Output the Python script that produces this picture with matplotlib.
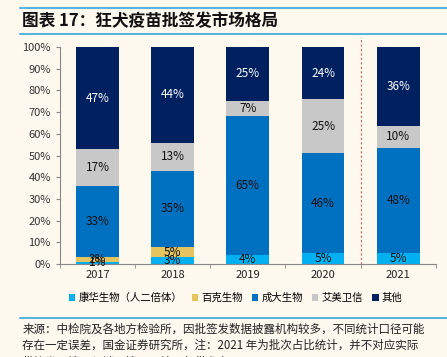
import matplotlib
matplotlib.use("Agg")
import matplotlib.pyplot as plt
import numpy as np

plt.rcParams['font.family'] = ['Noto Sans CJK SC', 'DejaVu Sans']

# data
years = ['2017', '2018', '2019', '2020', '2021']
companies = ['康华生物（人二倍体）', '百克生物', '成大生物', '艾美卫信', '其他']
kanghua = [1, 3, 4, 5, 5]
baike = [2, 5, 0, 0, 0]
chengda = [33, 35, 65, 46, 48]
aimei = [17, 13, 7, 25, 10]
others = [47, 44, 25, 24, 36]

COLORS = ['#00B0F0', '#E3C45E', '#0070C0', '#C8C8C8', '#002060']
TEXT_COLORS = ['#111111', '#111111', '#111111', '#111111', 'white']
BG = '#FDF9EF'
LINE_BLUE = '#3BA7DE'

fig = plt.figure(figsize=(4.47, 3.57), dpi=100, facecolor=BG)
ax = fig.add_axes([0.134, 0.2605, 0.841, 0.6075])
ax.set_facecolor(BG)

x = np.arange(len(years))
series = [kanghua, baike, chengda, aimei, others]
# 100% stacked: each year scaled to its total
totals = np.sum(np.array(series), axis=0).astype(float)
bottom = np.zeros(len(years))
for vals, name, col, tcol in zip(series, companies, COLORS, TEXT_COLORS):
    v = np.array(vals) / totals
    ax.bar(x, v, bottom=bottom, width=0.57, color=col, label=name, zorder=2)
    for xi, b, h, raw in zip(x, bottom, v, vals):
        if raw > 0:
            ax.text(xi, b + h / 2, f'{raw}%', ha='center', va='center',
                    fontsize=8.5, color=tcol, zorder=3)
    bottom += v

ax.set_xlim(-0.5, 4.5)
ax.set_ylim(0, 1)
ax.set_yticks(np.arange(0, 1.01, 0.1))
ax.set_yticklabels([f'{int(round(t * 100))}%' for t in np.arange(0, 1.01, 0.1)])
ax.set_xticks(x)
ax.set_xticklabels(years)
ax.set_xticks(np.arange(-0.5, 4.6, 1), minor=True)
ax.tick_params(axis='x', which='major', length=0, pad=4, labelsize=8, colors='#222222')
ax.tick_params(axis='x', which='minor', length=3, color='#888888')
ax.tick_params(axis='y', length=3, color='#888888', labelsize=8, labelcolor='#333333')
for s in ['top', 'right']:
    ax.spines[s].set_visible(False)
ax.spines['left'].set_color('#888888')
ax.spines['bottom'].set_color('#888888')

# dashed divider before 2021
ax.axvline(3.5, ymin=0, ymax=1.045, color='#E06060', linestyle=(0, (2, 2)),
           linewidth=0.8, clip_on=False, zorder=1)

ax.legend(loc='upper center', bbox_to_anchor=(0.468, -0.09), ncol=5, frameon=False,
          fontsize=7.5, handlelength=0.6, handleheight=0.6, handletextpad=0.3,
          columnspacing=0.9)

# title and frame lines
fig.add_artist(plt.Line2D([0.045, 1.0], [0.977, 0.977], color=LINE_BLUE, lw=1.2))
fig.add_artist(plt.Line2D([0.045, 1.0], [0.905, 0.905], color=LINE_BLUE, lw=1.2))
fig.text(0.05, 0.941, '图表 17：狂犬疫苗批签发市场格局', fontsize=12, fontweight='bold',
         style='italic', va='center', color='#111111')

fig.add_artist(plt.Line2D([0.045, 1.0], [0.11, 0.11], color=LINE_BLUE, lw=1.2))
foot = ['来源：中检院及各地方检验所，因批签发数据披露机构较多，不同统计口径可能',
        '存在一定误差，国金证券研究所，注：2021 年为批次占比统计，并不对应实际',
        '批签发量情况与销量情况，结果仅供参考']
for i, line in enumerate(foot):
    fig.text(0.05, 0.078 - i * 0.046, line, fontsize=8.3, va='center', color='#222222')

fig.savefig('out.png', dpi=100, facecolor=BG)
